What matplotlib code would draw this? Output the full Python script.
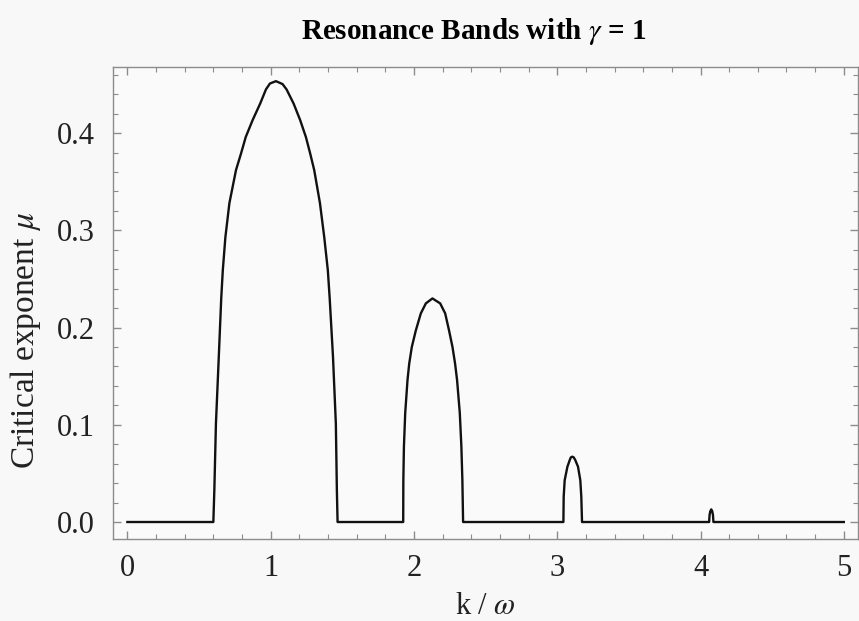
import matplotlib
matplotlib.use("Agg")
import matplotlib.pyplot as plt
from matplotlib.ticker import MultipleLocator

# values (k/omega, critical exponent mu)
k_band1 = [0.600, 0.607, 0.618, 0.638, 0.655, 0.666, 0.684, 0.712, 0.758, 0.793,
           0.826, 0.874, 0.927, 0.967, 0.995, 1.037, 1.083, 1.111, 1.160, 1.206,
           1.246, 1.276, 1.304, 1.344, 1.374, 1.399, 1.412, 1.435, 1.455, 1.462,
           1.467]
mu_band1 = [0.0, 0.033, 0.101, 0.170, 0.230, 0.259, 0.293, 0.328, 0.362, 0.379,
            0.396, 0.4134, 0.4305, 0.445, 0.4511, 0.4535, 0.4505, 0.445, 0.4305, 0.4134,
            0.396, 0.379, 0.362, 0.328, 0.293, 0.259, 0.230, 0.170, 0.101, 0.033,
            0.0]

k_band2 = [1.925, 1.926, 1.930, 1.939, 1.955, 1.967, 1.985, 2.013, 2.048, 2.083,
           2.129, 2.183, 2.218, 2.245, 2.269, 2.287, 2.301, 2.320, 2.331, 2.338,
           2.343]
mu_band2 = [0.0, 0.043, 0.0775, 0.112, 0.146, 0.163, 0.180, 0.197, 0.2146, 0.2249,
            0.230, 0.2249, 0.2146, 0.197, 0.180, 0.163, 0.146, 0.112, 0.0775, 0.043,
            0.0]

k_band3 = [3.043, 3.045, 3.052, 3.071, 3.088, 3.095, 3.105, 3.115, 3.125, 3.145,
           3.161, 3.168, 3.173]
mu_band3 = [0.0, 0.026, 0.043, 0.0569, 0.064, 0.0665, 0.0672, 0.0665, 0.064, 0.0569,
            0.043, 0.026, 0.0]

k_band4 = [4.060, 4.063, 4.068, 4.075, 4.082, 4.087, 4.090]
mu_band4 = [0.0, 0.007, 0.011, 0.013, 0.011, 0.007, 0.0]

k_start, k_end = 0.0, 5.0

plt.rcParams['font.family'] = ['Liberation Serif', 'DejaVu Serif']
plt.rcParams['mathtext.fontset'] = 'stix'

k_all = [k_start] + k_band1 + k_band2 + k_band3 + k_band4 + [k_end]
mu_all = [0.0] + mu_band1 + mu_band2 + mu_band3 + mu_band4 + [0.0]

fig = plt.figure(figsize=(8.59, 6.21), dpi=100, facecolor='#f8f8f8')
ax = fig.add_axes([0.1316, 0.132, 0.8674, 0.760])
ax.set_facecolor('#fafafa')

ax.plot(k_all, mu_all, color='#111111', lw=1.7, solid_joinstyle='round')

ax.set_xlim(-0.1, 5.1)
ax.set_ylim(-0.0175, 0.468)
ax.xaxis.set_major_locator(MultipleLocator(1))
ax.xaxis.set_minor_locator(MultipleLocator(0.2))
ax.yaxis.set_major_locator(MultipleLocator(0.1))
ax.yaxis.set_minor_locator(MultipleLocator(0.02))
ax.yaxis.set_major_formatter(plt.FormatStrFormatter('%.1f'))

gray = '#8c8c8c'
for s in ax.spines.values():
    s.set_color(gray)
    s.set_linewidth(1.0)
ax.tick_params(which='both', direction='in', top=True, right=True, color=gray,
               labelsize=22, labelcolor='#222222')
ax.tick_params(which='major', length=6, width=1.0, pad=11)
ax.tick_params(axis='y', which='major', pad=13)
ax.tick_params(which='minor', length=3.5, width=0.8)

ax.set_xlabel('k / $\\omega$', fontsize=22, color='#222222', labelpad=6)
ax.set_ylabel('Critical exponent $\\mu$', fontsize=24, color='#222222')
ax.yaxis.set_label_coords(-0.094, 0.42)
ax.set_title('Resonance Bands with $\\gamma$ = 1', fontsize=21, fontweight='bold',
             pad=20, x=0.484)

fig.savefig('out.png', dpi=100, facecolor=fig.get_facecolor())
